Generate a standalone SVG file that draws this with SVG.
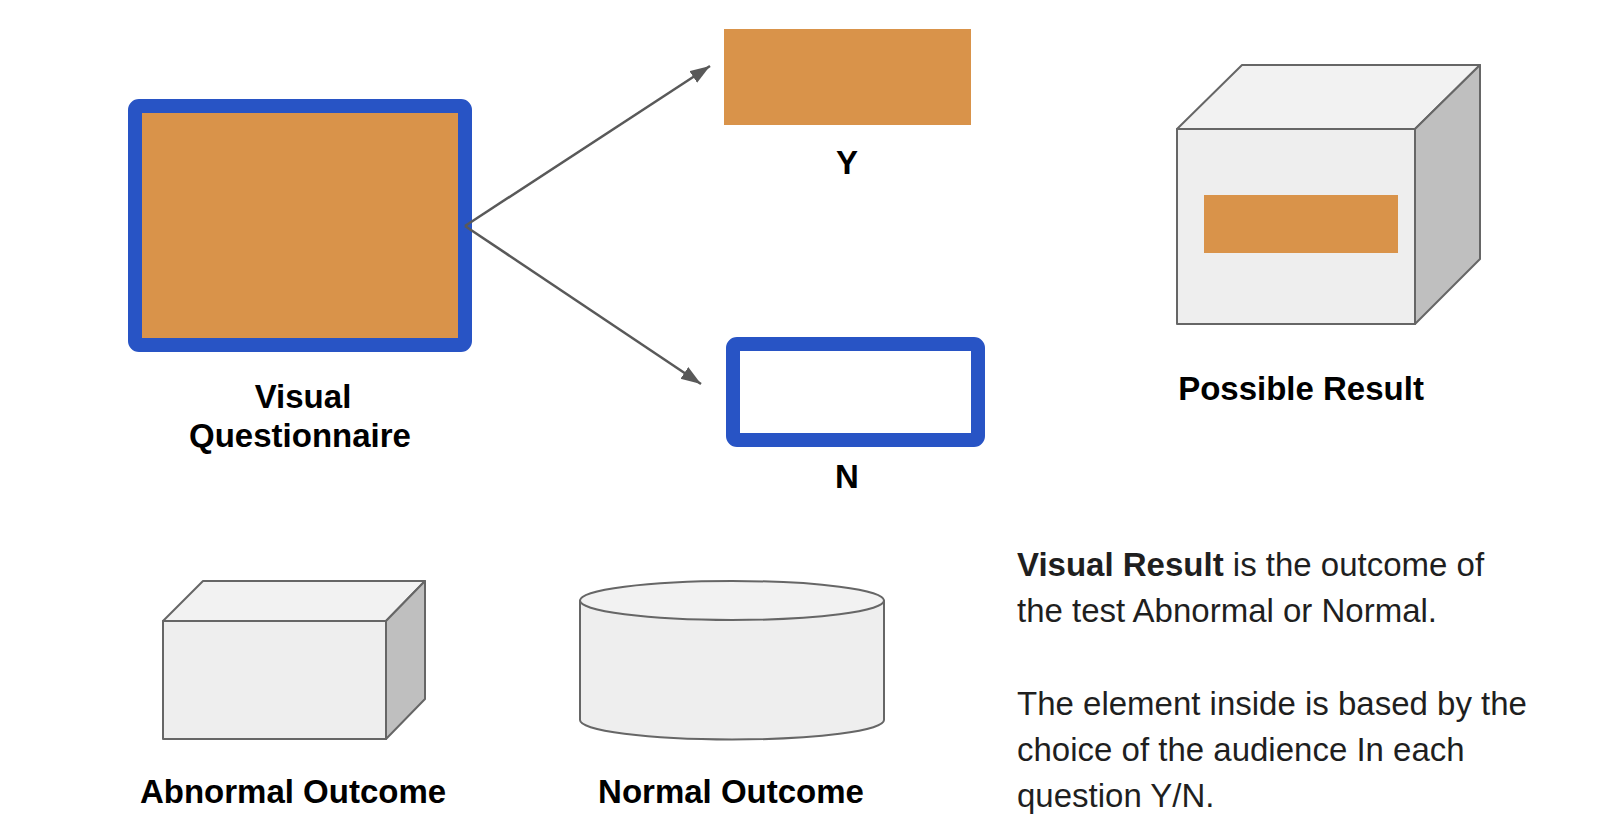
<svg xmlns="http://www.w3.org/2000/svg" width="1614" height="828" viewBox="0 0 1614 828">
  <style>
    .lbl { font-family: "Liberation Sans", Arial, sans-serif; font-weight: bold; font-size: 33px; fill: #000; text-anchor: middle; }
    .body { font-family: "Liberation Sans", Arial, sans-serif; font-size: 33px; fill: #1f1f1f; }
    .orange { fill: #D9934A; }
    .blue { fill: none; stroke: #2854C5; stroke-width: 14; }
    .shape { stroke: #666666; stroke-width: 2; stroke-linejoin: round; }
    .front { fill: #EEEEEE; }
    .top { fill: #F2F2F2; }
    .side { fill: #BFBFBF; }
    .conn { stroke: #595959; stroke-width: 2.5; fill: none; stroke-linejoin: round; }
  </style>
  <defs>
    <marker id="arrow" markerUnits="userSpaceOnUse" markerWidth="22" markerHeight="16" refX="20" refY="7" orient="auto">
      <path d="M0,0 L20,7 L0,14 z" fill="#595959"/>
    </marker>
  </defs>
  <rect width="1614" height="828" fill="#ffffff"/>

  <g id="visual-questionnaire">
    <rect class="orange" x="135" y="106" width="330" height="239"/>
    <rect class="blue" x="135" y="106" width="330" height="239" rx="4"/>
    <text class="lbl" x="303" y="408">Visual</text>
    <text class="lbl" x="300" y="447">Questionnaire</text>
  </g>

  <g id="connectors">
    <line class="conn" x1="465" y1="226" x2="710" y2="66" marker-end="url(#arrow)"/>
    <line class="conn" x1="465" y1="226" x2="701" y2="384" marker-end="url(#arrow)"/>
  </g>

  <g id="yes">
    <rect class="orange" x="724" y="29" width="247" height="96"/>
    <text class="lbl" x="847" y="174">Y</text>
  </g>

  <g id="no">
    <rect class="blue" x="733" y="344" width="245" height="96" rx="4"/>
    <text class="lbl" x="847" y="488">N</text>
  </g>

  <g id="possible-result">
    <polygon class="shape top" points="1177,129 1242,65 1480,65 1415,129"/>
    <polygon class="shape side" points="1415,129 1480,65 1480,259 1415,324"/>
    <rect class="shape front" x="1177" y="129" width="238" height="195"/>
    <rect class="orange" x="1204" y="195" width="194" height="58"/>
    <text class="lbl" x="1301" y="400">Possible Result</text>
  </g>

  <g id="abnormal-outcome">
    <polygon class="shape top" points="163,621 203,581 425,581 386,621"/>
    <polygon class="shape side" points="386,621 425,581 425,699 386,739"/>
    <rect class="shape front" x="163" y="621" width="223" height="118"/>
    <text class="lbl" x="293" y="803">Abnormal Outcome</text>
  </g>

  <g id="normal-outcome">
    <path class="shape front" d="M580,600.5 L580,720 A152,19.5 0 0 0 884,720 L884,600.5 Z"/>
    <ellipse class="shape top" cx="732" cy="600.5" rx="152" ry="19.5"/>
    <text class="lbl" x="731" y="803">Normal Outcome</text>
  </g>

  <g id="description">
    <text class="body" x="1017" y="576"><tspan font-weight="bold">Visual Result</tspan> is the outcome of</text>
    <text class="body" x="1017" y="622">the test Abnormal or Normal.</text>
    <text class="body" x="1017" y="715">The element inside is based by the</text>
    <text class="body" x="1017" y="761">choice of the audience In each</text>
    <text class="body" x="1017" y="807">question Y/N.</text>
  </g>
</svg>
